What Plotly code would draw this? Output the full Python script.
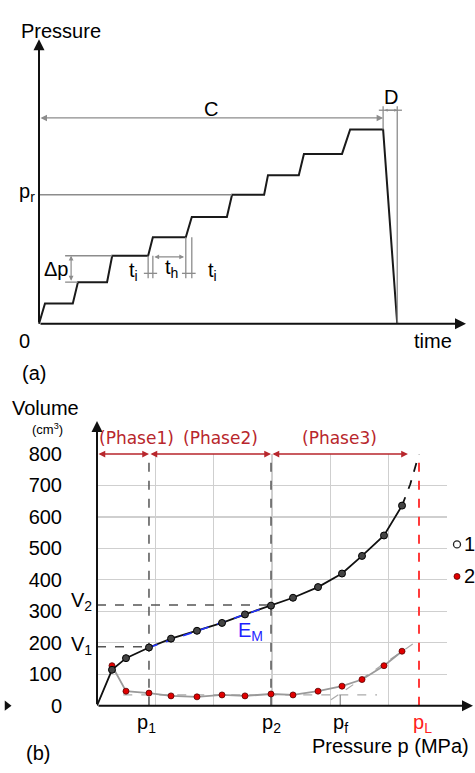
import plotly.graph_objects as go

W, H = 475, 773
FONT = "Liberation Sans, Arial, sans-serif"
PHASE_FONT = "DejaVu Sans, Verdana, sans-serif"

# ---------------- Panel (a): stepwise loading schedule (schematic units) ----------------
step_time = [0, 1.4, 7.9, 9.1, 15.9, 17.1, 25.5, 26.6, 34.3, 35.7, 43.9, 45.1,
             52.6, 53.5, 60.7, 61.9, 70.8, 72.7, 80.4, 83.7]
step_pressure = [0, 7.2, 7.2, 14.7, 14.7, 24.0, 24.0, 30.5, 30.5, 37.7, 37.7, 45.5,
                 45.5, 52.4, 52.4, 59.9, 59.9, 68.5, 68.5, 0]
p_r_level = 45.5
C_level = 72.6
D_level = 75.3
D_top = 76.7
hold_end = 80.4
unload_end = 83.7

# ---------------- Panel (b): volume vs pressure ----------------
pressure_p = [0.257, 0.497, 0.891, 1.269, 1.714, 2.143, 2.537, 2.983, 3.36, 3.789,
              4.20, 4.543, 4.92, 5.229]
volume_1 = [114, 151, 185, 213, 238, 263, 290, 318, 343, 377, 420, 476, 541, 636]
volume_2 = [127, 46, 40, 31, 28, 34, 31, 37, 34, 46, 62, 83, 127, 173]
extrap_p = [5.229, 5.37, 5.52]
extrap_v = [636, 704, 800]
y_ticks = [0, 100, 200, 300, 400, 500, 600, 700, 800]
p1, p2, pf, pL = 0.891, 2.983, 4.17, 5.52
V1, V2 = 187, 320
creep_base = 34
tangent_p = [4.01, 5.43]
tangent_v = [18.5, 198]
phase3_end = 5.33
series_names = ["1", "2"]

# ---------------- pixel anchors for layout ----------------
TX0, TY0, TSX, TSY = 39, 322, 4.28, 2.92
BX0, BX1, BY0, BY1 = 97, 447, 715, 456


def paper(px, py):
    return px / W, 1 - py / H


def segs(pairs):
    xs, ys = [], []
    for (x0, y0), (x1, y1) in pairs:
        xs += [x0, x1, None]
        ys += [y0, y1, None]
    return xs, ys


def arrow(x0, y0, x1, y1, xr, yr, color, width, both=False, size=1.0, head=2):
    return dict(x=x1, y=y1, ax=x0, ay=y0, xref=xr, yref=yr, axref=xr, ayref=yr,
                showarrow=True, arrowhead=head, startarrowhead=head,
                arrowside="end+start" if both else "end", arrowsize=size,
                startarrowsize=size, arrowwidth=width, arrowcolor=color, text="",
                standoff=0, startstandoff=0)


def label(px, py, text, size=20, color="black", family=FONT, xanchor="center"):
    x, y = paper(px, py)
    return dict(x=x, y=y, xref="paper", yref="paper", text=text, showarrow=False,
                font=dict(family=family, size=size, color=color),
                xanchor=xanchor, yanchor="middle")


fig = go.Figure()
GRAY = "#8c8c8c"

# ---- top panel traces ----
fig.add_trace(go.Scatter(x=step_time, y=step_pressure, mode="lines",
                         line=dict(color="#1a1a1a", width=2), xaxis="x", yaxis="y"))
helper = [
    ((0, p_r_level), (step_time[11], p_r_level)),
    ((hold_end, step_pressure[18]), (hold_end, D_top)),
    ((unload_end, 0), (unload_end, D_top)),
    ((hold_end - 1.0, D_level), (unload_end + 1.1, D_level)),
    ((6.1, 24.0), (step_time[5], 24.0)),
    ((6.1, 14.7), (step_time[3], 14.7)),
    ((25.5, 24.0), (25.5, 16.1)), ((26.6, 24.0), (26.6, 16.1)),
    ((24.5, 17.8), (27.6, 17.8)),
    ((34.3, 30.5), (34.3, 16.1)), ((35.7, 30.5), (35.7, 16.1)),
    ((33.4, 17.8), (36.6, 17.8)),
]
hx, hy = segs(helper)
fig.add_trace(go.Scatter(x=hx, y=hy, mode="lines", line=dict(color=GRAY, width=1.3),
                         xaxis="x", yaxis="y"))

# ---- bottom panel traces ----
DASH = dict(color="#555", width=1.5, dash="dash")
fig.add_trace(go.Scatter(x=[0, p1], y=[V1, V1], mode="lines", line=DASH, xaxis="x2", yaxis="y2"))
fig.add_trace(go.Scatter(x=[0, p2], y=[V2, V2], mode="lines", line=DASH, xaxis="x2", yaxis="y2"))
fig.add_trace(go.Scatter(x=[p1, p1], y=[0, 800], mode="lines", line=DASH, xaxis="x2", yaxis="y2"))
fig.add_trace(go.Scatter(x=[p2, p2], y=[0, 800], mode="lines", line=DASH, xaxis="x2", yaxis="y2"))
fig.add_trace(go.Scatter(x=[pL, pL], y=[0, 800], mode="lines",
                         line=dict(color="#ff3b3b", width=2, dash="dash"), xaxis="x2", yaxis="y2"))
fig.add_trace(go.Scatter(x=[0.45, 4.8], y=[creep_base, creep_base], mode="lines",
                         line=dict(color="#aaaaaa", width=1.2, dash="dash"), xaxis="x2", yaxis="y2"))
fig.add_trace(go.Scatter(x=tangent_p, y=tangent_v, mode="lines",
                         line=dict(color="#aaaaaa", width=1.2, dash="dash"), xaxis="x2", yaxis="y2"))
fig.add_trace(go.Scatter(x=[pf, pf], y=[0, creep_base], mode="lines",
                         line=dict(color="#888", width=1.2), xaxis="x2", yaxis="y2"))
fig.add_trace(go.Scatter(x=pressure_p, y=volume_2, mode="lines+markers",
                         line=dict(color="#9a9a9a", width=1.8),
                         marker=dict(size=6, color="#e00000", line=dict(color="#5a0000", width=0.8)),
                         xaxis="x2", yaxis="y2"))
fig.add_trace(go.Scatter(x=[0] + pressure_p, y=[0] + volume_1, mode="lines",
                         line=dict(color="#111", width=1.8), xaxis="x2", yaxis="y2"))
fig.add_trace(go.Scatter(x=extrap_p, y=extrap_v, mode="lines",
                         line=dict(color="#111", width=1.8, dash="dash"), xaxis="x2", yaxis="y2"))
fig.add_trace(go.Scatter(x=[p1, p2], y=[volume_1[2], volume_1[7]], mode="lines",
                         line=dict(color="#2233ff", width=1.6, dash="dash"), xaxis="x2", yaxis="y2"))
fig.add_trace(go.Scatter(x=pressure_p, y=volume_1, mode="markers",
                         marker=dict(size=7, color="#444", line=dict(color="#000", width=1)),
                         xaxis="x2", yaxis="y2"))

# legend swatches and stray marker on a full-page pixel overlay axis
fig.add_trace(go.Scatter(x=[457], y=[549], mode="markers",
                         marker=dict(size=7, color="white", line=dict(color="#222", width=1.3)),
                         xaxis="x3", yaxis="y3"))
fig.add_trace(go.Scatter(x=[457], y=[582], mode="markers",
                         marker=dict(size=6, color="#e00000", line=dict(color="#5a0000", width=0.8)),
                         xaxis="x3", yaxis="y3"))
fig.add_trace(go.Scatter(x=[7], y=[715], mode="markers",
                         marker=dict(size=9, symbol="triangle-right", color="#111"),
                         xaxis="x3", yaxis="y3"))

bpx = (BX1 - BX0) / 6.0
bpy = (BY0 - BY1) / 800.0

ann = []
ann.append(arrow(0, 0, (466 - TX0) / TSX, 0, "x", "y", "#111", 2, size=1.1))
ann.append(arrow(0, 0, 0, (TY0 - 29) / TSY, "x", "y", "#111", 2, size=1.1))
ann.append(arrow(0, C_level, hold_end, C_level, "x", "y", GRAY, 1.3, both=True, size=1.0))
ann.append(arrow(7.5, 14.7, 7.5, 24.0, "x", "y", GRAY, 1.2, both=True, size=0.8))
ann.append(arrow(26.6, 23.6, 33.9, 23.6, "x", "y", GRAY, 1.2, both=True, size=0.8))
ann.append(arrow(hold_end, D_level, unload_end, D_level, "x", "y", GRAY, 1.0, both=True, size=0.6))

ann.append(arrow(0, 0, (473 - BX0) / bpx, 0, "x2", "y2", "#111", 2, size=1.1))
ann.append(arrow(0, 0, 0, (BY0 - 422) / bpy, "x2", "y2", "#111", 2, size=1.1))
RED = "#b8262c"
ann.append(arrow(0, 800, p1, 800, "x2", "y2", RED, 1.5, both=True, size=0.9))
ann.append(arrow(p1, 800, p2, 800, "x2", "y2", RED, 1.5, both=True, size=0.9))
ann.append(arrow(p2, 800, phase3_end, 800, "x2", "y2", RED, 1.5, both=True, size=0.9))

ann += [
    label(61, 21, "Pressure"),
    label(24, 340, "0"),
    label(433, 340, "time"),
    label(34, 373, "(a)"),
    label(17, 187, "p<sub>r</sub>", xanchor="left"),
    label(211, 101, "C"),
    label(391, 89, "D"),
    label(56, 266, "Δp"),
    label(133, 268, "t<sub>i</sub>"),
    label(171, 265, "t<sub>h</sub>"),
    label(212, 268, "t<sub>i</sub>"),
]
ann += [
    label(45, 409, "Volume"),
    label(47, 430, "(cm<sup>3</sup>)", size=13),
    label(136, 440, "(Phase1)", size=17, color=RED, family=PHASE_FONT),
    label(220, 440, "(Phase2)", size=17, color=RED, family=PHASE_FONT),
    label(339, 440, "(Phase3)", size=17, color=RED, family=PHASE_FONT),
    label(81, 608, "V<sub>2</sub>"),
    label(81, 653, "V<sub>1</sub>"),
    label(250, 639, "E<sub>M</sub>", color="#1f1fff"),
    label(146, 733, "p<sub>1</sub>"),
    label(271, 733, "p<sub>2</sub>"),
    label(340, 733, "p<sub>f</sub>"),
    label(422, 733, "p<sub>L</sub>", color="#ff2020"),
    label(471, 757, "Pressure p (MPa)", xanchor="right"),
    label(38, 764, "(b)"),
    label(462, 549, series_names[0], xanchor="left"),
    label(462, 582, series_names[1], xanchor="left"),
]

fig.update_layout(
    width=W, height=H, margin=dict(l=0, r=0, t=0, b=0),
    paper_bgcolor="white", plot_bgcolor="rgba(0,0,0,0)", showlegend=False,
    xaxis=dict(domain=[0, 1], range=[(0 - TX0) / TSX, (W - TX0) / TSX], visible=False, anchor="y"),
    yaxis=dict(domain=[0, 1], range=[(TY0 - H) / TSY, TY0 / TSY], visible=False, anchor="x"),
    xaxis2=dict(domain=[BX0 / W, BX1 / W], range=[0, 6], anchor="y2", dtick=1,
                showgrid=True, gridcolor="#cfcfcf", gridwidth=1.2, zeroline=False,
                showticklabels=False, showline=False, ticks=""),
    yaxis2=dict(domain=[1 - BY0 / H, 1 - BY1 / H], range=[0, 800], anchor="x2",
                tickvals=y_ticks, showgrid=True, gridcolor="#cfcfcf", gridwidth=1.2,
                zeroline=False, showline=False, ticks="", ticklabelstandoff=34,
                tickfont=dict(family=FONT, size=20, color="black")),
    xaxis3=dict(domain=[0, 1], range=[0, W], visible=False, anchor="y3"),
    yaxis3=dict(domain=[0, 1], range=[H, 0], visible=False, anchor="x3"),
    annotations=ann,
)

fig.write_html("out.html",
               config={"displayModeBar": False, "staticPlot": True},
               post_script="document.body.style.margin='0';"
                           "document.body.style.overflow='hidden';"
                           "document.documentElement.style.overflow='hidden';")
